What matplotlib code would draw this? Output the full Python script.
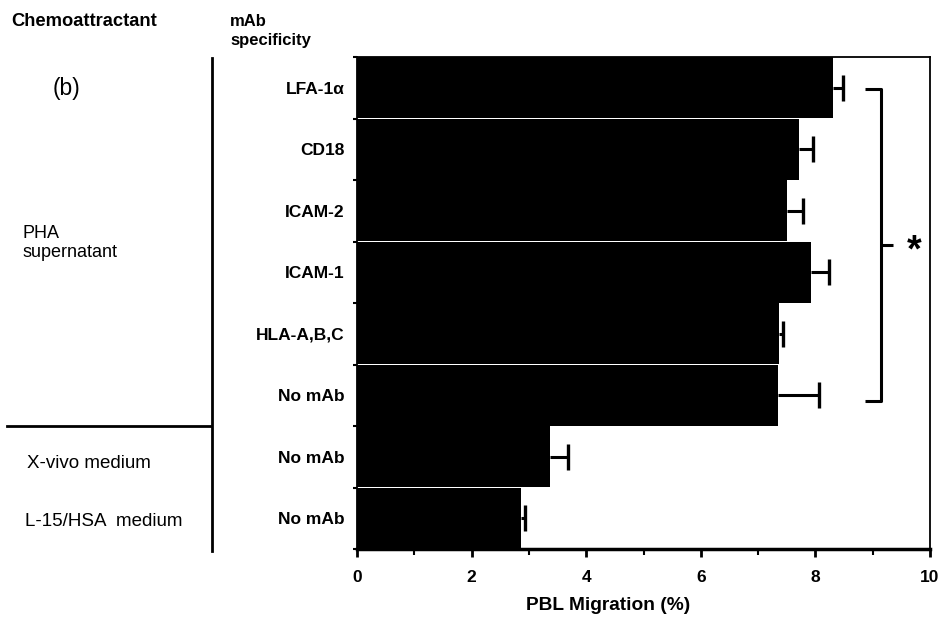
import numpy as np
import matplotlib
matplotlib.use('Agg')
import matplotlib.pyplot as plt
from matplotlib.lines import Line2D

plt.rcParams['font.family'] = ['Liberation Sans', 'DejaVu Sans']

# data (top to bottom)
antibodies = ['LFA-1\u03b1', 'CD18', 'ICAM-2', 'ICAM-1', 'HLA-A,B,C', 'No mAb', 'No mAb', 'No mAb']
migration = np.array([8.30, 7.72, 7.50, 7.93, 7.37, 7.34, 3.36, 2.87])
sem = np.array([0.19, 0.23, 0.28, 0.30, 0.06, 0.72, 0.32, 0.07])
x_ticks = [0, 2, 4, 6, 8, 10]

W, H = 946, 625


def fx(px):
    return px / W


def fy(py):
    return 1 - py / H


fig = plt.figure(figsize=(W / 100, H / 100), dpi=100)
ax = fig.add_axes([fx(357), fy(549), 573 / W, 492 / H])

ypos = np.arange(len(antibodies))
ax.barh(ypos, migration, height=0.99, color='black', zorder=2)
# one-sided error bars (upper only)
ax.errorbar(migration, ypos, xerr=[np.zeros(len(sem)), sem], fmt='none',
            ecolor='black', elinewidth=2.2, capsize=0, zorder=3)
ax.plot(migration + sem, ypos, ls='none', marker='|', ms=19, mew=2.4,
        color='black', zorder=3)

ax.set_xlim(0, 10)
ax.set_ylim(len(antibodies) - 0.5, -0.5)

# x axis
ax.set_xticks(x_ticks)
ax.set_xticks(np.arange(1, 10, 2), minor=True)
ax.tick_params(axis='x', which='major', direction='out', length=6, width=2, pad=9,
               labelsize=12.5)
ax.tick_params(axis='x', which='minor', direction='out', length=4, width=1.5)
for lab in ax.get_xticklabels():
    lab.set_fontweight('bold')

# y axis
ax.set_yticks(ypos)
ax.set_yticklabels(antibodies, fontweight='bold', fontsize=12.5)
ax.set_yticks(np.arange(-0.5, len(antibodies)), minor=True)
ax.tick_params(axis='y', which='major', length=0, pad=9)
ax.tick_params(axis='y', which='minor', direction='out', length=3, width=1.5)

for side in ['top', 'right', 'left']:
    ax.spines[side].set_linewidth(1.3)
ax.spines['bottom'].set_linewidth(2.5)

fig.text(fx(608), fy(605), 'PBL Migration (%)', ha='center', va='center',
         fontsize=13.8, fontweight='bold')

# significance bracket
bk = dict(color='black', lw=2.2, clip_on=False, solid_capstyle='butt')
ax.plot([8.86, 9.14, 9.14, 8.86], [0.02, 0.02, 5.1, 5.1], **bk)
ax.plot([9.14, 9.35], [2.55, 2.55], **bk)
ax.text(9.72, 2.66, '*', ha='center', va='center', fontsize=27,
        fontweight='bold', clip_on=False)

# left-hand annotation table
fig.text(fx(11), fy(21), 'Chemoattractant', ha='left', va='center',
         fontsize=13.2, fontweight='bold')
fig.text(fx(230), fy(31), 'mAb\nspecificity', ha='left', va='center',
         fontsize=12, fontweight='bold', linespacing=1.25)
fig.text(fx(67), fy(88), '(b)', ha='center', va='center', fontsize=16.5)
fig.text(fx(22), fy(243), 'PHA\nsupernatant', ha='left', va='center',
         fontsize=13, linespacing=1.1)
fig.text(fx(27), fy(463), 'X-vivo medium', ha='left', va='center', fontsize=13.5)
fig.text(fx(25), fy(522), 'L-15/HSA  medium', ha='left', va='center', fontsize=13.5)

fig.add_artist(Line2D([fx(212), fx(212)], [fy(58), fy(551)], color='black', lw=2))
fig.add_artist(Line2D([fx(7), fx(210)], [fy(426), fy(426)], color='black', lw=2))

fig.savefig('out.png', dpi=100)
